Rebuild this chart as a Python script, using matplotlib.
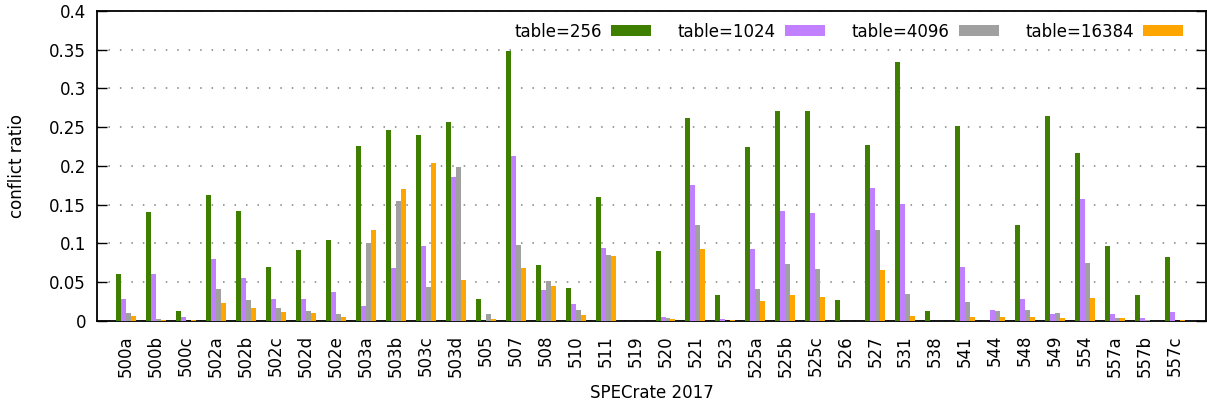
import matplotlib
matplotlib.use('Agg')
import matplotlib.pyplot as plt
import numpy as np

# benchmark names on the x axis
benchmarks = ['500a', '500b', '500c', '502a', '502b', '502c', '502d', '502e',
              '503a', '503b', '503c', '503d', '505', '507', '508', '510',
              '511', '519', '520', '521', '523', '525a', '525b', '525c',
              '526', '527', '531', '538', '541', '544', '548', '549',
              '554', '557a', '557b', '557c']

# conflict ratio per table size
table_256 = [0.060, 0.141, 0.0125, 0.163, 0.142, 0.0695, 0.0915, 0.104,
             0.226, 0.247, 0.240, 0.257, 0.028, 0.348, 0.072, 0.042,
             0.160, 0.0, 0.090, 0.262, 0.033, 0.225, 0.271, 0.271,
             0.027, 0.227, 0.334, 0.0125, 0.251, 0.0, 0.124, 0.265,
             0.217, 0.097, 0.033, 0.082]
table_1024 = [0.028, 0.060, 0.0047, 0.080, 0.055, 0.029, 0.029, 0.037,
              0.019, 0.068, 0.097, 0.186, 0.0, 0.213, 0.040, 0.022,
              0.094, 0.0, 0.0047, 0.176, 0.002, 0.093, 0.142, 0.139,
              0.0005, 0.172, 0.151, 0.0, 0.0695, 0.014, 0.029, 0.0086,
              0.158, 0.0086, 0.0035, 0.011]
table_4096 = [0.010, 0.002, 0.0, 0.041, 0.027, 0.0165, 0.0125, 0.0086,
              0.1005, 0.155, 0.0436, 0.199, 0.0086, 0.098, 0.051, 0.014,
              0.085, 0.0, 0.0035, 0.124, 0.0, 0.041, 0.0734, 0.067,
              0.0, 0.117, 0.0345, 0.0, 0.024, 0.0125, 0.014, 0.0099,
              0.0746, 0.0035, 0.001, 0.0]
table_16384 = [0.006, 0.001, 0.001, 0.023, 0.0165, 0.011, 0.0099, 0.0047,
               0.117, 0.170, 0.204, 0.0526, 0.002, 0.068, 0.045, 0.0073,
               0.0837, 0.0, 0.002, 0.093, 0.001, 0.0255, 0.0332, 0.0306,
               0.0, 0.0656, 0.006, 0.0, 0.0047, 0.0047, 0.0047, 0.0035,
               0.0293, 0.0035, 0.0, 0.001]

series_labels = ['table=256', 'table=1024', 'table=4096', 'table=16384']
colors = ['#3f7f00', '#c080ff', '#a0a0a0', '#ffa500']


def plot_conflicts(output_file):
    plt.rcParams['font.family'] = 'DejaVu Sans'
    plt.rcParams['font.size'] = 12

    fig = plt.figure(figsize=(12.07, 4.05), dpi=100)
    ax = fig.add_axes([0.0804, 0.2074, 0.9186, 0.7656])

    series = [table_256, table_1024, table_4096, table_16384]
    x = np.arange(len(benchmarks))
    width = 1.0 / 6  # gnuplot clustered histogram, gap 2

    for j, (vals, label, color) in enumerate(zip(series, series_labels, colors)):
        offset = (j - 1.5) * width
        ax.bar(x + offset, vals, width=width, color=color, label=label,
               linewidth=0, zorder=3)

    ax.set_xlim(-0.97, len(benchmarks) + 0.03)
    ax.set_ylim(0, 0.4)
    ax.set_yticks(np.arange(0, 0.401, 0.05))
    ax.set_yticklabels(['0', '0.05', '0.1', '0.15', '0.2', '0.25', '0.3', '0.35', '0.4'])
    ax.set_xticks(x)
    ax.set_xticklabels(benchmarks, rotation=90)

    ax.tick_params(axis='y', direction='in', length=7, width=1, pad=8,
                   right=True, labelsize=12)
    ax.tick_params(axis='x', length=0, pad=10, labelsize=12)

    ax.yaxis.grid(True, color='#808080', linestyle=(0, (1, 6.5)), linewidth=1.1, zorder=0)
    ax.set_axisbelow(True)
    for spine in ax.spines.values():
        spine.set_linewidth(1.3)
        spine.set_color('black')

    ax.set_ylabel('conflict ratio', fontsize=12, labelpad=16.5)
    ax.set_xlabel('SPECrate 2017', fontsize=12, labelpad=5)

    ax.legend(loc='upper right', ncol=4, frameon=False, markerfirst=False,
              handlelength=2.4, handleheight=0.65, handletextpad=0.55,
              columnspacing=1.6, fontsize=12, borderaxespad=0.3,
              bbox_to_anchor=(0.99, 1.0))

    fig.savefig(output_file, dpi=100)
    plt.close(fig)


if __name__ == '__main__':
    plot_conflicts('out.png')
    print("Saved out.png")
